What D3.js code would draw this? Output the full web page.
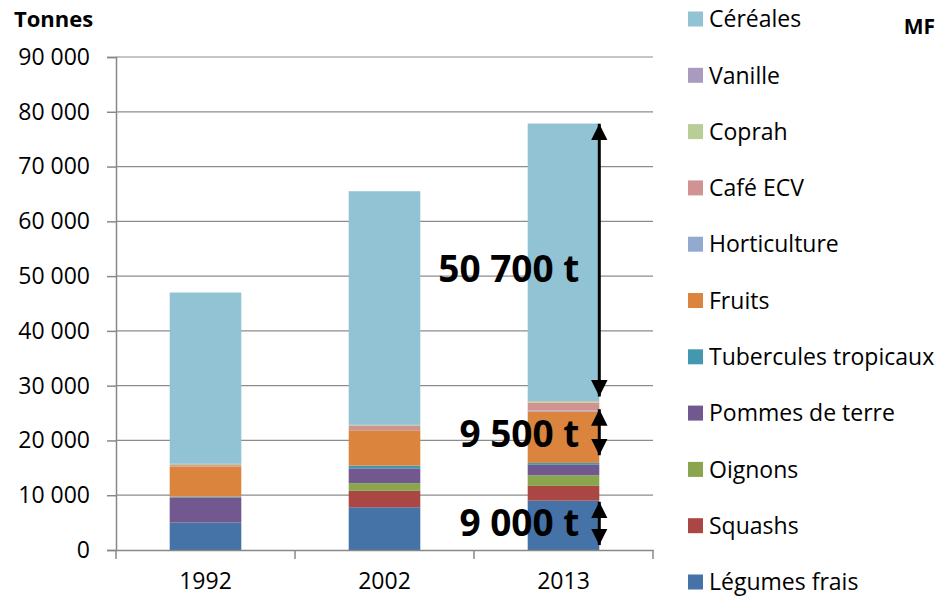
<!DOCTYPE html>
<html>
<head>
<meta charset="utf-8">
<script src="https://cdn.jsdelivr.net/npm/d3@7"></script>
<style>
  body { margin: 0; background: #fff; }
  svg text { font-family: 'Open Sans', sans-serif; fill: #000; }
</style>
</head>
<body>
<div id="chart"></div>
<script>
const years = ['1992', '2002', '2013']

// series, bottom to top
const legumesFrais = [5000, 7800, 9000]
const squashs = [0, 3000, 2700]
const oignons = [0, 1400, 1950]
const pommesDeTerre = [4600, 2700, 1900]
const tubercules = [150, 500, 350]
const fruits = [5500, 6450, 9400]
const horticulture = [0, 50, 150]
const cafeEcv = [250, 750, 1450]
const coprah = [200, 150, 250]
const vanille = [50, 50, 50]
const cereales = [31250, 42650, 50650]

const seriesNames = ['Légumes frais', 'Squashs', 'Oignons', 'Pommes de terre', 'Tubercules tropicaux',
  'Fruits', 'Horticulture', 'Café ECV', 'Coprah', 'Vanille', 'Céréales']
const seriesValues = [legumesFrais, squashs, oignons, pommesDeTerre, tubercules,
  fruits, horticulture, cafeEcv, coprah, vanille, cereales]
const colors = ['#4572a7', '#aa4643', '#89a54e', '#71588f', '#4198af',
  '#db843d', '#93a9cf', '#d19392', '#b9cd96', '#a99bbd', '#92c3d4']

const yTicks = [0, 10000, 20000, 30000, 40000, 50000, 60000, 70000, 80000, 90000]

// annotations on the 2013 bar: [from, to] in tonnes
const arrowRanges = [[77800, 28000], [25700, 17300], [8800, 900]]
const arrowLabels = ['50 700 t', '9 500 t', '9 000 t']
const labelValues = [51400, 21200, 5000]

const width = 937
const height = 596
const margin = {top: 57, right: 284, bottom: 46, left: 116}
const innerW = width - margin.left - margin.right
const innerH = height - margin.top - margin.bottom

const table = years.map((yr, i) => {
  const row = {year: yr}
  seriesNames.forEach((s, j) => { row[s] = seriesValues[j][i] })
  return row
})
const stacked = d3.stack().keys(seriesNames)(table)

const x = d3.scaleBand().domain(years).range([0, innerW]).paddingInner(0.6).paddingOuter(0.3)
const xb = d3.scaleBand().domain(years).range([0, innerW])
const y = d3.scaleLinear().domain([0, 90000]).range([innerH, 0])
const fmt = (d) => d3.format(',')(d).replace(/,/g, ' ')

const svg = d3.select('#chart').append('svg')
  .attr('width', width)
  .attr('height', height)

const chart = svg.append('g')
  .attr('transform', `translate(${margin.left}, ${margin.top})`)

// gridlines
chart.append('g').selectAll('line').data(yTicks.slice(1))
  .enter().append('line')
    .attr('x1', 0).attr('x2', innerW)
    .attr('y1', (d) => y(d)).attr('y2', (d) => y(d))
    .attr('stroke', '#8c8c8c').attr('stroke-width', 1.2)

// bars
chart.append('g').selectAll('g').data(stacked)
  .enter().append('g')
    .attr('fill', (d, i) => colors[i])
  .selectAll('rect').data((d) => d)
  .enter().append('rect')
    .attr('x', (d) => x(d.data.year))
    .attr('width', x.bandwidth())
    .attr('y', (d) => y(d[1]))
    .attr('height', (d) => y(d[0]) - y(d[1]))

// y axis
const yAxis = chart.append('g')
  .call(d3.axisLeft(y).tickValues(yTicks).tickFormat(fmt).tickSize(9).tickPadding(17))
yAxis.select('.domain').attr('stroke', '#888').attr('stroke-width', 1.5)
yAxis.selectAll('.tick line').attr('stroke', '#888').attr('stroke-width', 1.5)
yAxis.selectAll('text').style('font-size', '23px')

// x axis
const xAxis = chart.append('g')
  .attr('transform', `translate(0, ${innerH})`)
  .call(d3.axisBottom(xb).tickSize(0).tickPadding(23))
xAxis.select('.domain').attr('stroke', '#888').attr('stroke-width', 1.5)
xAxis.selectAll('text').style('font-size', '23px')
xAxis.selectAll('.sep').data([0, 1, 2, 3])
  .enter().append('line')
    .attr('x1', (d) => d * xb.bandwidth()).attr('x2', (d) => d * xb.bandwidth())
    .attr('y1', 0).attr('y2', 9)
    .attr('stroke', '#888').attr('stroke-width', 1.5)

// arrows
const defs = svg.append('defs')
defs.append('marker')
  .attr('id', 'head')
  .attr('viewBox', '0 0 10 10')
  .attr('refX', 10).attr('refY', 5)
  .attr('markerWidth', 5.5).attr('markerHeight', 5.5)
  .attr('markerUnits', 'strokeWidth')
  .attr('orient', 'auto-start-reverse')
  .append('path').attr('d', 'M0,0 L10,5 L0,10 Z').attr('fill', '#000')

const ax = x('2013') + x.bandwidth()
chart.append('g').selectAll('line').data(arrowRanges)
  .enter().append('line')
    .attr('x1', ax).attr('x2', ax)
    .attr('y1', (d) => y(d[0])).attr('y2', (d) => y(d[1]))
    .attr('stroke', '#000').attr('stroke-width', 3)
    .attr('marker-start', 'url(#head)')
    .attr('marker-end', 'url(#head)')

chart.append('g').selectAll('text').data(arrowLabels)
  .enter().append('text')
    .attr('x', ax - 20)
    .attr('y', (d, i) => y(labelValues[i]))
    .attr('dy', '0.36em')
    .attr('text-anchor', 'end')
    .style('font-size', '37px')
    .style('font-weight', 'bold')
    .text((d) => d)

// unit label
svg.append('text')
  .attr('x', 14).attr('y', 27)
  .style('font-size', '22px').style('font-weight', 'bold')
  .text('Tonnes')

svg.append('text')
  .attr('x', 935).attr('y', 34)
  .attr('text-anchor', 'end')
  .style('font-size', '21px').style('font-weight', 'bold')
  .text('MF')

// legend, top to bottom
const legendNames = seriesNames.slice().reverse()
const legendColors = colors.slice().reverse()
const legend = svg.append('g')
  .selectAll('g').data(legendNames)
  .enter().append('g')
    .attr('transform', (d, i) => `translate(688, ${19 + i * 56.3})`)
legend.append('rect')
  .attr('x', 0).attr('y', -7.5)
  .attr('width', 15).attr('height', 15)
  .attr('fill', (d, i) => legendColors[i])
legend.append('text')
  .attr('x', 21).attr('dy', '0.36em')
  .style('font-size', '23px')
  .text((d) => d)
</script>
</body>
</html>
